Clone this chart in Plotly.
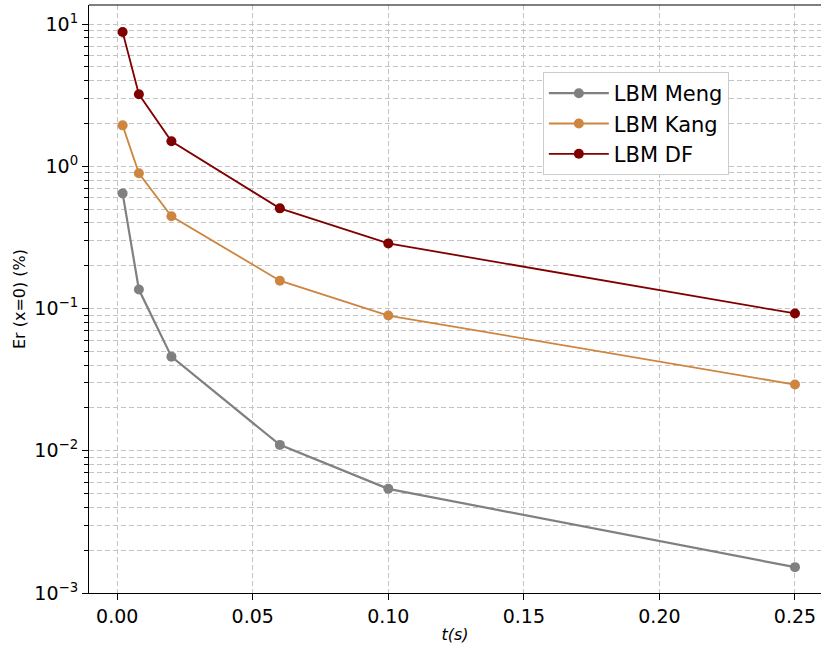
import plotly.graph_objects as go

t_vals = [0.002, 0.008, 0.02, 0.06, 0.1, 0.25]
er_meng = [0.645, 0.136, 0.0459, 0.0110, 0.0054, 0.00152]
er_kang = [1.94, 0.893, 0.445, 0.157, 0.0893, 0.0292]
er_df = [8.79, 3.21, 1.50, 0.506, 0.287, 0.0923]
series_names = ["LBM Meng", "LBM Kang", "LBM DF"]
series_colors = ["#808080", "#CD853F", "#800000"]
x_ticks = [0.0, 0.05, 0.10, 0.15, 0.20, 0.25]
x_tick_labels = ["0.00", "0.05", "0.10", "0.15", "0.20", "0.25"]
y_exponents = [-3, -2, -1, 0, 1]
y_ticks = [10.0 ** e for e in y_exponents]
y_tick_labels = ["10<sup>%s</sup>" % (str(e).replace("-", "\u2212")) for e in y_exponents]
y_minor = [m * 10.0 ** e for e in y_exponents for m in range(2, 10)]

fig = go.Figure()
for name, vals, col in zip(series_names, [er_meng, er_kang, er_df], series_colors):
    fig.add_trace(go.Scatter(
        x=t_vals, y=vals, name=name, mode="lines+markers",
        line=dict(color=col, width=2.2 if name == "LBM Meng" else 1.8),
        marker=dict(color=col, size=10),
    ))

grid_col = "#c4c4c4"
gdash = "5px,3px"
fig.update_layout(
    width=821, height=648,
    margin=dict(l=89, r=0, t=5, b=55),
    plot_bgcolor="white", paper_bgcolor="white",
    font=dict(family="DejaVu Sans", size=19, color="black"),
    showlegend=True,
    legend=dict(
        x=0.62, y=0.886, xanchor="left", yanchor="top",
        bgcolor="white", bordercolor="#cccccc", borderwidth=1,
        font=dict(size=21), itemwidth=60, tracegroupgap=0,
    ),
    xaxis=dict(
        range=[-0.0104, 0.2596], automargin=False,
        tickvals=x_ticks, ticktext=x_tick_labels,
        ticks="outside", ticklen=6, tickwidth=1.2, tickcolor="black",
        showline=True, linecolor="black", linewidth=1.2,
        showgrid=True, gridcolor=grid_col, griddash=gdash, gridwidth=1,
        zeroline=False,
        title=dict(text="<i>t(s)</i>", font=dict(size=16), standoff=2),
    ),
    yaxis=dict(
        type="log", range=[-3.0, 1.134], automargin=False,
        tickvals=y_ticks, ticktext=y_tick_labels,
        ticks="outside", ticklen=6, tickwidth=1.2, tickcolor="black",
        showline=True, linecolor="black", linewidth=1.2,
        showgrid=True, gridcolor=grid_col, griddash=gdash, gridwidth=1,
        zeroline=False,
        minor=dict(tickvals=y_minor, ticks="outside", ticklen=3.5, tickcolor="black",
                   showgrid=True, gridcolor=grid_col, griddash=gdash, gridwidth=1),
        title=dict(text="Er (x=0) (%)", font=dict(size=16), standoff=4),
    ),
)
fig.add_shape(type="line", xref="paper", yref="paper", x0=0, x1=1, y0=1, y1=1,
              line=dict(color="black", width=1.2))
fig.write_html(
    "out.html",
    config={"displayModeBar": False},
    post_script="document.body.style.margin='0';document.body.style.overflow='hidden';"
                "document.documentElement.style.overflow='hidden';",
)
